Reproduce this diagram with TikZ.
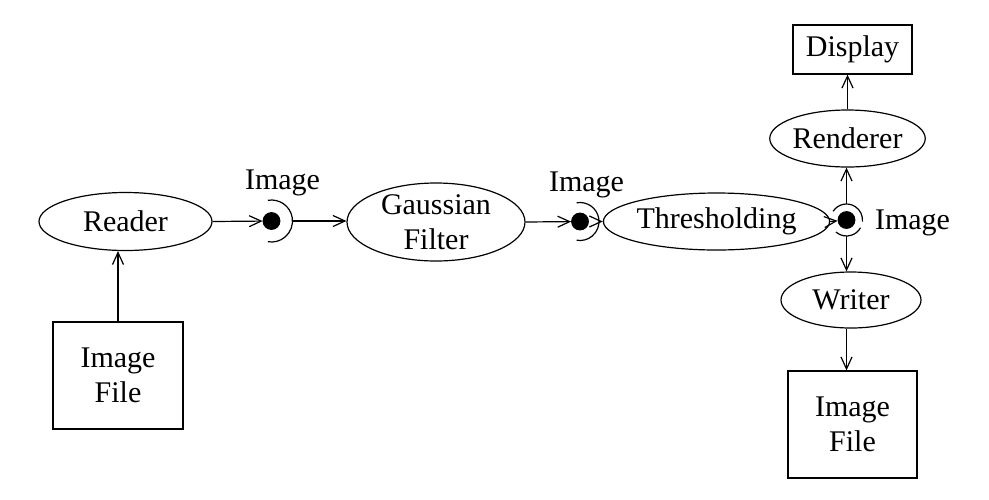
\documentclass[tikz,border=0pt]{standalone}
\usepackage{fontspec}
\setmainfont{Liberation Serif}
\usetikzlibrary{shapes.geometric,arrows.meta}
\begin{document}
\begin{tikzpicture}[x=0.5pt,y=-0.5pt,line width=0.6pt,
  >={Straight Barb[length=6pt,width=5.5pt]},
  txt/.style={font=\fontsize{15}{17.5}\selectfont},
  proc/.style={txt,ellipse,draw,inner sep=0pt,align=center},
  store/.style={txt,rectangle,draw,inner sep=0pt,align=center},
  portdot/.style={circle,fill,draw,inner sep=0pt,minimum size=8.3pt},
  lbl/.style={txt,anchor=base}]
\useasboundingbox (0,0) rectangle (989,499);
% processes
\node[proc,minimum width=86.5pt,minimum height=29pt] (reader) at (125.5,221.5) {Reader};
\node[proc,minimum width=89pt,minimum height=37.5pt] (gauss) at (436,222) {Gaussian\\Filter};
\node[proc,minimum width=88.5pt,minimum height=28.5pt] (thresh) at (716.5,221.5) {Thresholding};
\node[proc,minimum width=70.5pt,minimum height=28.5pt] (render) at (847.5,138.5) {Renderer};
\node[proc,minimum width=70pt,minimum height=28pt] (writer) at (851,300) {Writer};
% stores
\node[store,minimum width=65pt,minimum height=53.5pt] (file1) at (118,375.5) {Image\\File};
\node[store,minimum width=64.5pt,minimum height=53.5pt] (file2) at (852.5,424.5) {Image\\File};
\node[store,minimum width=59.5pt,minimum height=24.5pt] (display) at (852.5,49.5) {Display};
% ports
\node[portdot] (p1) at (271.5,221) {};
\node[portdot] (p2) at (580,221.5) {};
\node[portdot] (p3) at (846.5,220) {};
\draw (p1.center) ++(100:10.5pt) arc[start angle=100,end angle=-100,radius=10.5pt];
\draw (p2.center) ++(100:9.5pt) arc[start angle=100,end angle=-100,radius=9.5pt];
\draw (p3.center) ++(147:8pt) arc[start angle=147,end angle=-6,radius=8pt];
\draw (p3.center) ++(-131:8pt) arc[start angle=-131,end angle=-29,radius=8pt];
\coordinate (a1) at ([xshift=10.5pt]p1.center);
\coordinate (a2) at ([xshift=9.5pt]p2.center);
\coordinate (a3u) at ([yshift=8pt]p3.center);
\coordinate (a3d) at ([yshift=-8pt]p3.center);
% labels
\node[lbl] (l1) at (282.5,189.5) {Image};
\node[lbl] (l2) at (586.5,191) {Image};
\node[lbl] (l3) at (912.5,229) {Image};
% connectors
\draw[->] (file1.north) -- (file1.north |- reader.south);
\draw[->] (reader.east) -- (p1);
\draw[->] (a1) -- (gauss.west |- a1);
\draw[->] (gauss.east) -- (p2);
\draw[->] (a2) -- (thresh.west |- a2);
\draw[->] (thresh.east) -- (p3);
\draw[->] (a3u) -- (a3u |- render.south);
\draw[->] (render.north) -- (render.north |- display.south);
\draw[->] (a3d) -- (a3d |- writer.north);
\draw[->] (writer.south -| a3d) -- (a3d |- file2.north);
\end{tikzpicture}
\end{document}
